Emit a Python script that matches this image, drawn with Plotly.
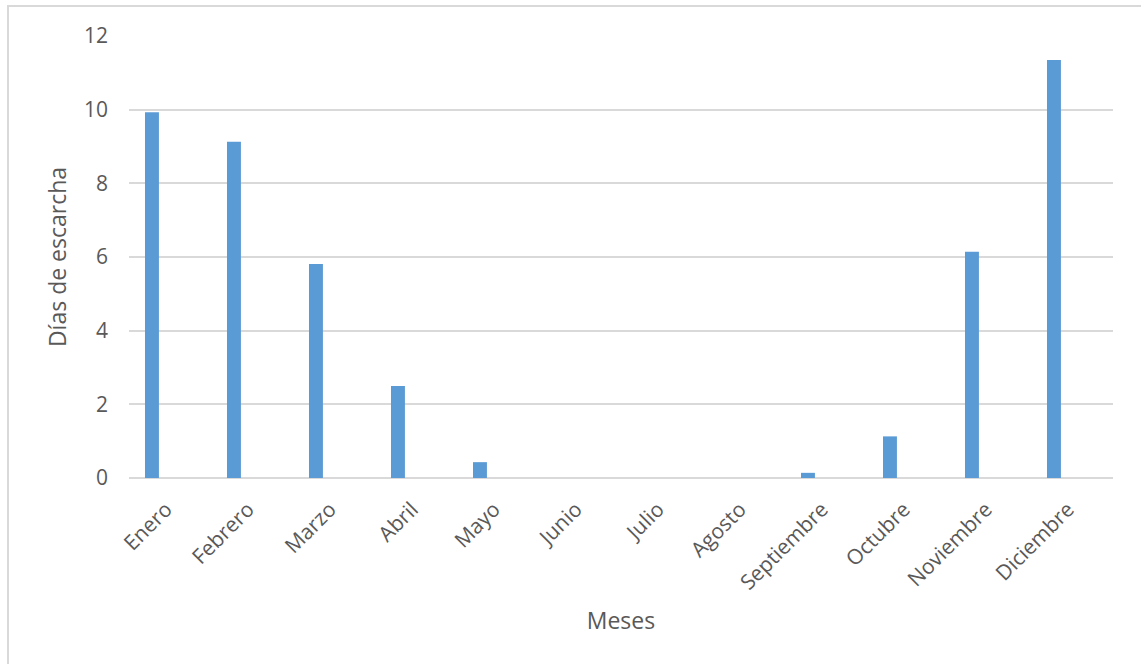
import plotly.graph_objects as go

meses = ["Enero", "Febrero", "Marzo", "Abril", "Mayo", "Junio", "Julio",
         "Agosto", "Septiembre", "Octubre", "Noviembre", "Diciembre"]
dias_escarcha = [9.93, 9.13, 5.81, 2.50, 0.43, 0, 0, 0, 0.14, 1.13, 6.14, 11.35]
y_ticks = [0, 2, 4, 6, 8, 10, 12]

W, H = 1141, 664
L, R, T, B = 129, 28, 36, 186
FONT = "Open Sans"
GREY = "#595959"

fig = go.Figure(go.Bar(
    x=meses, y=dias_escarcha,
    marker=dict(color="#5B9BD5", line=dict(width=0)),
))

fig.update_layout(
    width=W, height=H,
    margin=dict(l=L, r=R, t=T, b=B, autoexpand=False),
    paper_bgcolor="white", plot_bgcolor="white",
    bargap=0.83,
    showlegend=False,
    font=dict(family=FONT, color=GREY, size=21),
    xaxis=dict(
        range=[-0.28, 11.72],
        tickangle=-45, tickfont=dict(size=21, color=GREY),
        ticklabelstandoff=14, ticklabelshift=14,
        showgrid=False, showline=False, ticks="",
        title=dict(text="Meses", font=dict(size=23, color=GREY), standoff=18),
        automargin=False,
    ),
    yaxis=dict(
        range=[0, 12], tickvals=y_ticks,
        tickfont=dict(size=21, color=GREY),
        showgrid=True, gridcolor="#D9D9D9", gridwidth=1.5,
        zeroline=True, zerolinecolor="#D9D9D9", zerolinewidth=2,
        showline=False, ticks="", ticklabelstandoff=20,
        title=dict(text="Días de escarcha", font=dict(size=23, color=GREY), standoff=10),
        automargin=False,
    ),
)

# chart-area frame (left and top edges visible)
fig.add_shape(
    type="rect", xref="paper", yref="paper",
    x0=(8 - L) / (W - L - R), x1=(W + 20 - L) / (W - L - R),
    y0=(H - B - (H + 20)) / (H - T - B), y1=(H - B - 6) / (H - T - B),
    line=dict(color="#D9D9D9", width=2), fillcolor="rgba(0,0,0,0)",
    layer="below",
)

fig.write_html("out.html")
